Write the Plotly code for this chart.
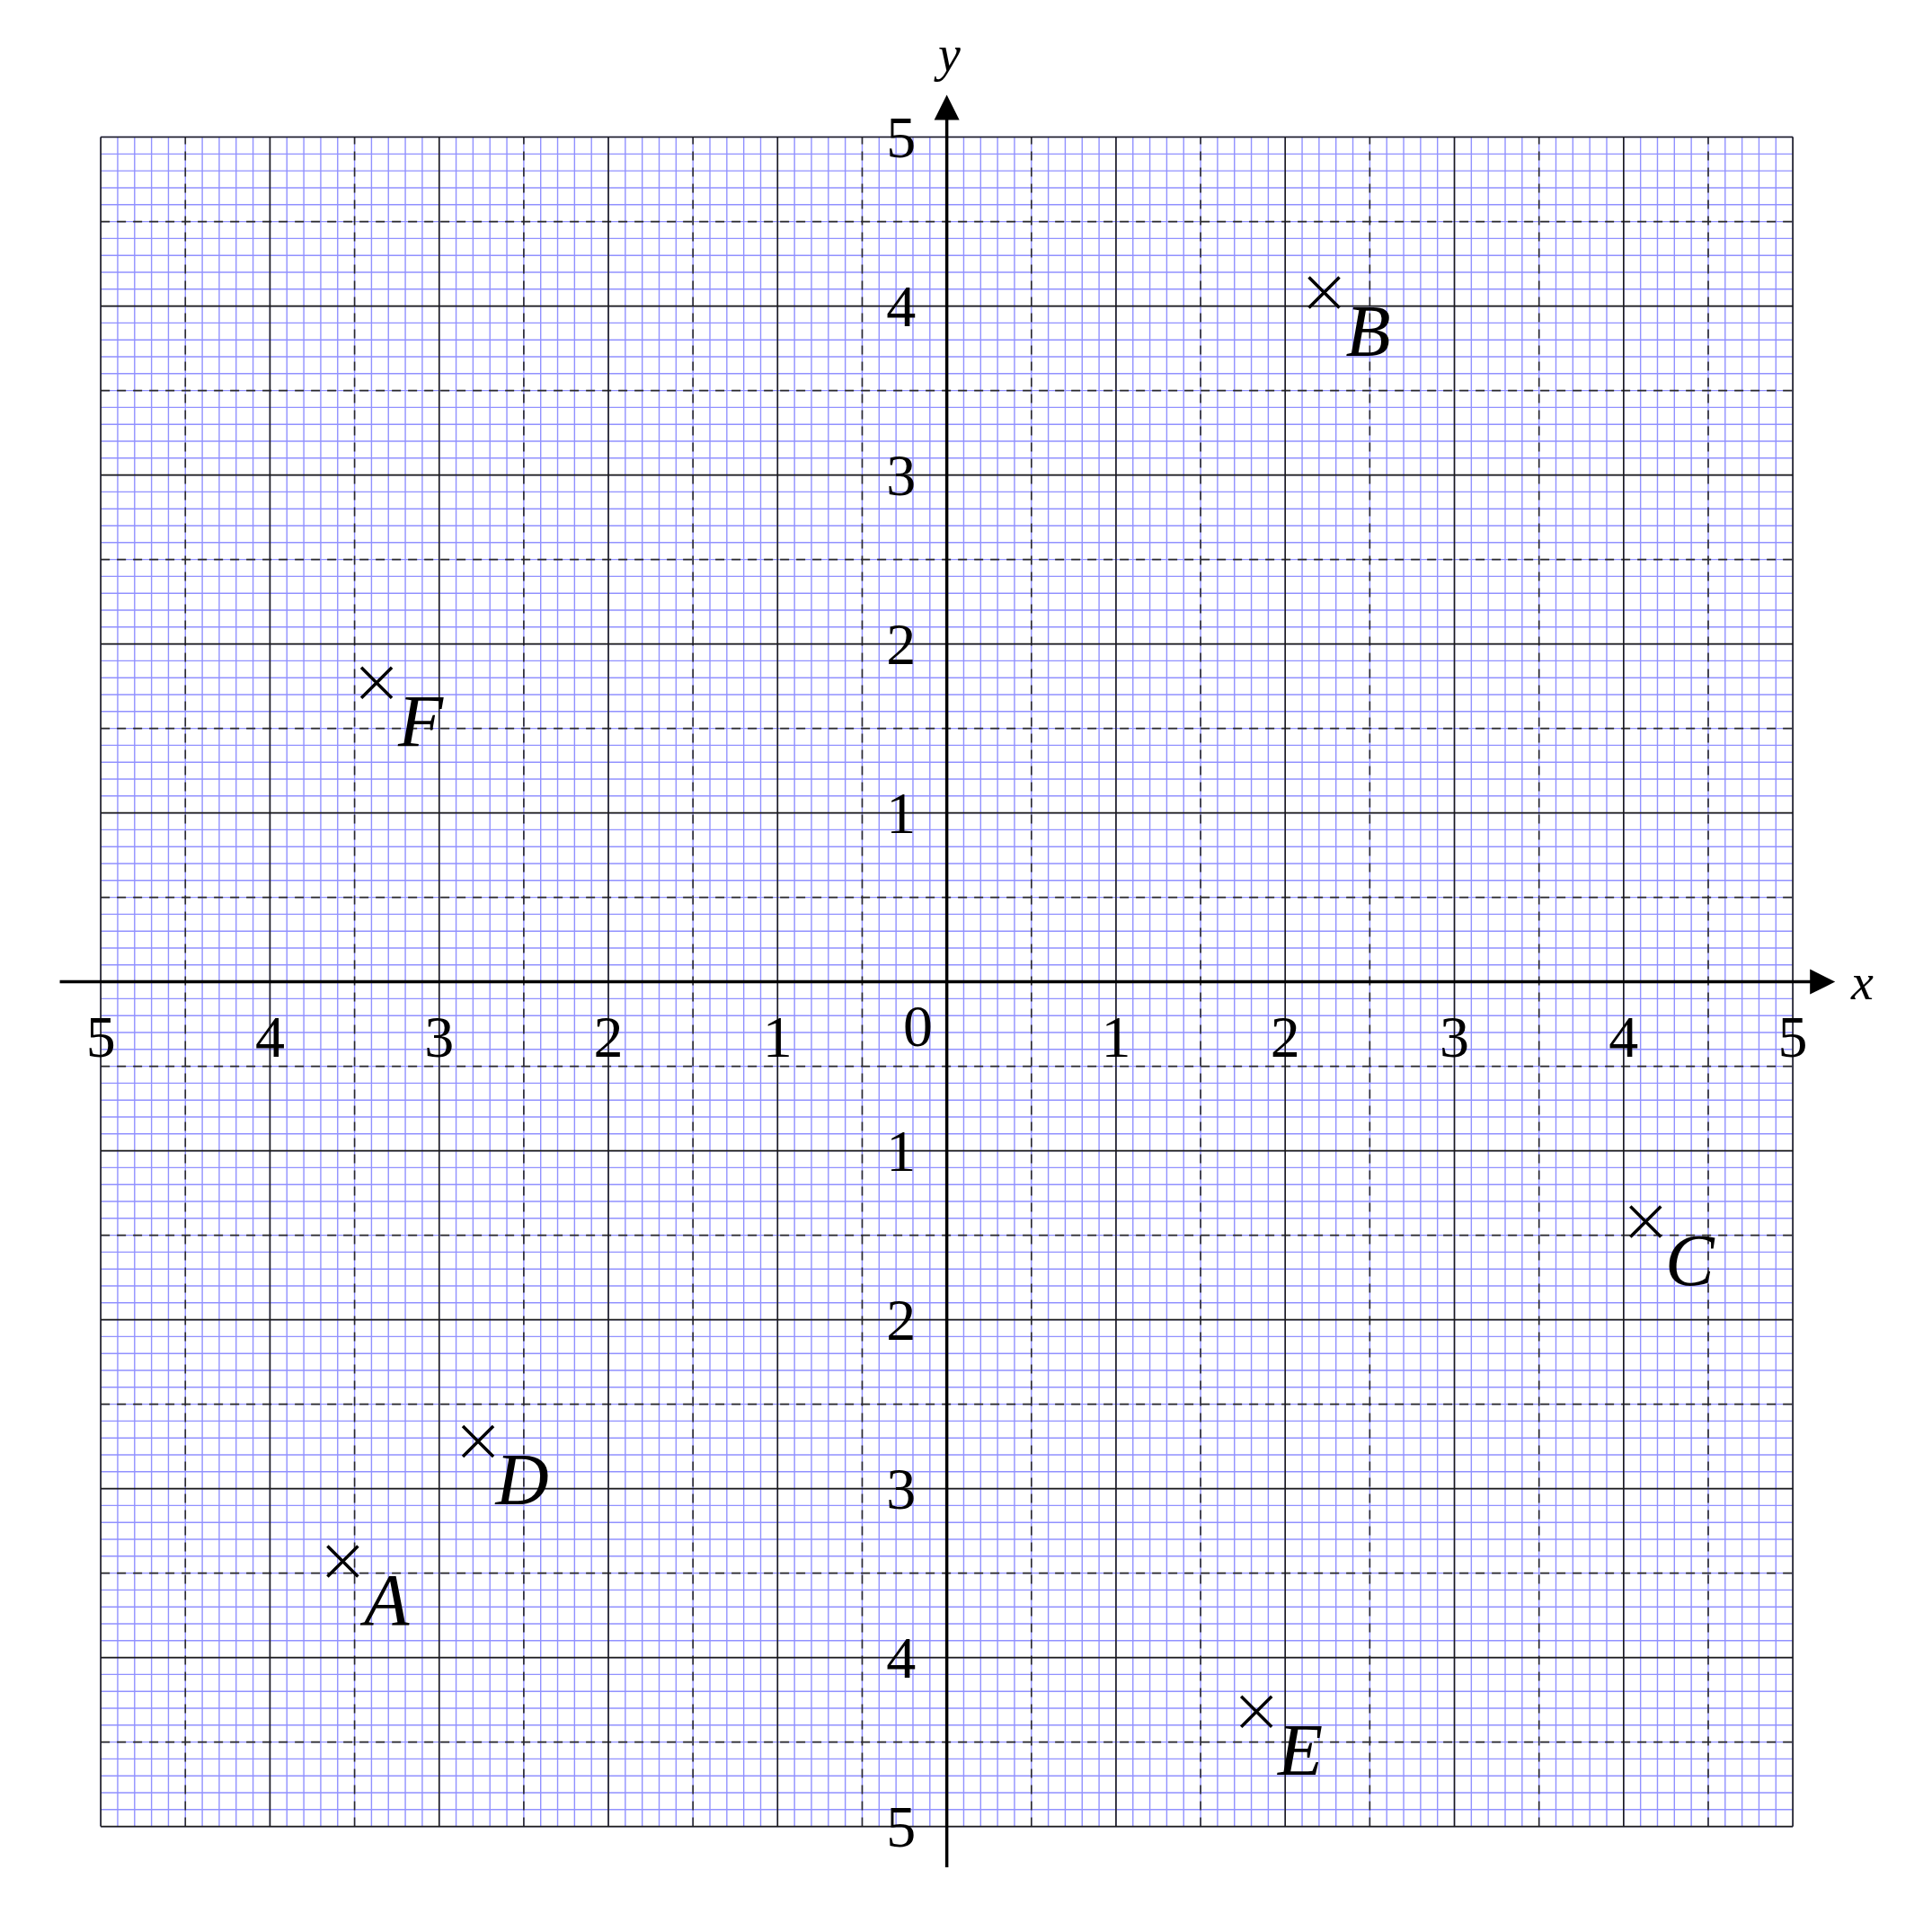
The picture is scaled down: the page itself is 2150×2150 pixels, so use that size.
import numpy as np
import plotly.graph_objects as go

# ---- data ----
point_names = ["A", "B", "C", "D", "E", "F"]
point_x = [-3.57, 2.23, 4.13, -2.77, 1.83, -3.37]
point_y = [-3.43, 4.08, -1.42, -2.72, -4.32, 1.77]

x_tick_vals = [-5, -4, -3, -2, -1, 1, 2, 3, 4, 5]
x_tick_text = ["5", "4", "3", "2", "1", "1", "2", "3", "4", "5"]
y_tick_vals = [5, 4, 3, 2, 1, -1, -2, -3, -4, -5]
y_tick_text = ["5", "4", "3", "2", "1", "1", "2", "3", "4", "5"]

GRID_MIN, GRID_MAX = -5, 5
AXIS_EXT = 5.25

SERIF = "Liberation Serif, DejaVu Serif, serif"


def grid_lines(vals):
    xs, ys = [], []
    for v in vals:
        xs += [v, v, None]
        ys += [GRID_MIN, GRID_MAX, None]
        xs += [GRID_MIN, GRID_MAX, None]
        ys += [v, v, None]
    return xs, ys


minor_vals = [round(v, 1) for v in np.arange(GRID_MIN, GRID_MAX + 0.001, 0.1)]
half_vals = [v + 0.5 for v in range(GRID_MIN, GRID_MAX)]
major_vals = list(range(GRID_MIN, GRID_MAX + 1))

fig = go.Figure()

mx, my = grid_lines(minor_vals)
fig.add_trace(go.Scatter(x=mx, y=my, mode="lines",
                         line=dict(color="rgb(145,145,255)", width=1.4),
                         hoverinfo="skip", showlegend=False))
hx, hy = grid_lines(half_vals)
fig.add_trace(go.Scatter(x=hx, y=hy, mode="lines",
                         line=dict(color="#2a2a2a", width=1.6, dash="10px,8px"),
                         hoverinfo="skip", showlegend=False))
jx, jy = grid_lines(major_vals)
fig.add_trace(go.Scatter(x=jx, y=jy, mode="lines",
                         line=dict(color="#1a1a1a", width=1.6),
                         hoverinfo="skip", showlegend=False))

# tick labels
fig.add_trace(go.Scatter(x=x_tick_vals, y=[-0.355] * len(x_tick_vals), mode="text",
                         text=x_tick_text, textposition="middle center",
                         textfont=dict(family=SERIF, size=66, color="black"),
                         hoverinfo="skip", showlegend=False))
fig.add_trace(go.Scatter(x=[-0.27] * len(y_tick_vals),
                         y=[v - 0.03 for v in y_tick_vals], mode="text",
                         text=y_tick_text, textposition="middle center",
                         textfont=dict(family=SERIF, size=66, color="black"),
                         hoverinfo="skip", showlegend=False))
fig.add_trace(go.Scatter(x=[-0.17], y=[-0.29], mode="text", text=["0"],
                         textposition="middle center",
                         textfont=dict(family=SERIF, size=66, color="black"),
                         hoverinfo="skip", showlegend=False))

# points
fig.add_trace(go.Scatter(x=point_x, y=point_y, mode="markers",
                         marker=dict(symbol="x-thin", size=34, color="black",
                                     line=dict(color="black", width=3.5)),
                         showlegend=False))
fig.add_trace(go.Scatter(x=[v + 0.26 for v in point_x],
                         y=[v - 0.265 for v in point_y], mode="text",
                         text=["<i>%s</i>" % n for n in point_names],
                         textposition="middle center",
                         textfont=dict(family=SERIF, size=82, color="black"),
                         hoverinfo="skip", showlegend=False))

# axes with arrows
fig.add_annotation(x=AXIS_EXT, y=0, ax=-AXIS_EXT, ay=0, xref="x", yref="y",
                   axref="x", ayref="y", showarrow=True, arrowhead=2,
                   arrowsize=1.6, arrowwidth=3.5, arrowcolor="black", text="")
fig.add_annotation(x=0, y=AXIS_EXT, ax=0, ay=-AXIS_EXT, xref="x", yref="y",
                   axref="x", ayref="y", showarrow=True, arrowhead=2,
                   arrowsize=1.6, arrowwidth=3.5, arrowcolor="black", text="")
fig.add_annotation(x=5.41, y=0, xref="x", yref="y", text="<i>x</i>",
                   showarrow=False, font=dict(family=SERIF, size=56, color="black"))
fig.add_annotation(x=0, y=5.49, xref="x", yref="y", text="<i>y</i>",
                   showarrow=False, font=dict(family=SERIF, size=56, color="black"))

fig.update_layout(
    width=2150, height=2150,
    margin=dict(l=0, r=0, t=0, b=0),
    paper_bgcolor="white", plot_bgcolor="white",
    xaxis=dict(range=[-5.553, 5.865], visible=False, showgrid=False, zeroline=False),
    yaxis=dict(range=[-5.667, 5.769], visible=False, showgrid=False, zeroline=False),
)

fig.write_html("out.html")
